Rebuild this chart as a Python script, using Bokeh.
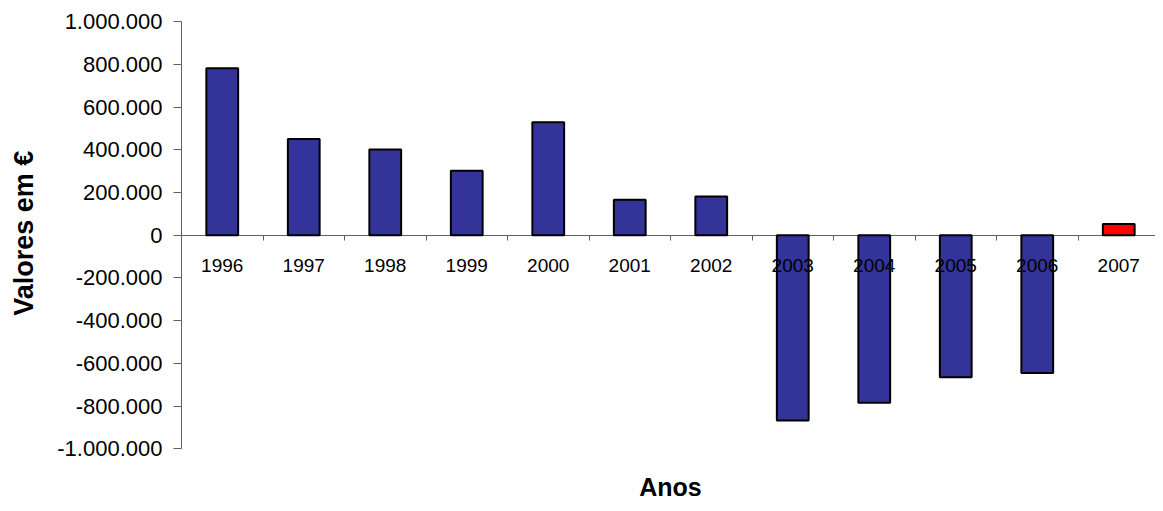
import math
from bokeh.plotting import figure
from bokeh.models import FixedTicker, LinearAxis, Range1d, Label, ColumnDataSource
from bokeh.embed import file_html
from bokeh.resources import INLINE

years = ["1996", "1997", "1998", "1999", "2000", "2001", "2002",
         "2003", "2004", "2005", "2006", "2007"]
values = [782000, 451000, 401000, 302000, 529000, 166000, 181000,
          -868000, -785000, -665000, -645000, 52000]
colors = ["#333399"] * 11 + ["#FF0000"]
y_ticks = [-1000000, -800000, -600000, -400000, -200000, 0,
           200000, 400000, 600000, 800000, 1000000]
y_tick_labels = ["-1.000.000", "-800.000", "-600.000", "-400.000", "-200.000", "0",
                 "200.000", "400.000", "600.000", "800.000", "1.000.000"]
x_title = "Anos"
y_title = "Valores em €"

FONT = "Liberation Sans"
AXIS_COLOR = "#606060"
# layout (pixels): the plotting frame covers the whole canvas; axes sit at fixed locations
W, H = 1155, 503
LEFT_PX = 181          # x pixel of the value axis
CAT_PX = 81.5          # width of one category
ZERO_PX = 234.7        # y pixel of value 0
PX_PER_EUR = 213.5 / 1000000

n = len(years)
xs = [i + 0.5 for i in range(n)]
bounds = list(range(n + 1))

x_range = Range1d(-LEFT_PX / CAT_PX, (W - LEFT_PX) / CAT_PX)
y_range = Range1d(-(H - ZERO_PX) / PX_PER_EUR, ZERO_PX / PX_PER_EUR)

p = figure(width=W, height=H, output_backend="svg", toolbar_location=None,
           x_range=x_range, y_range=y_range,
           min_border_left=0, min_border_right=0, min_border_top=0, min_border_bottom=0,
           x_axis_location=None, y_axis_location=None)
p.grid.visible = False
p.outline_line_color = None
p.background_fill_color = "white"
p.border_fill_color = "white"

src = ColumnDataSource(dict(x=xs, top=values, color=colors))
p.vbar(x="x", top="top", bottom=0, width=0.39, fill_color="color",
       line_color="black", line_width=2, source=src)

yaxis = LinearAxis(ticker=FixedTicker(ticks=y_ticks), fixed_location=0,
                   bounds=(y_ticks[0], y_ticks[-1]),
                   major_label_overrides=dict(zip(y_ticks, y_tick_labels)),
                   major_label_text_font=FONT, major_label_text_font_size="22px",
                   major_label_text_color="black", major_label_standoff=11,
                   major_tick_out=8, major_tick_in=0, minor_tick_out=0, minor_tick_in=0,
                   axis_line_color=AXIS_COLOR, major_tick_line_color=AXIS_COLOR)
p.add_layout(yaxis, "left")

tick_axis = LinearAxis(ticker=FixedTicker(ticks=bounds), fixed_location=0,
                       bounds=(bounds[0], bounds[-1]),
                       major_label_text_color=None, major_label_text_font_size="1px",
                       major_tick_out=5, major_tick_in=0, minor_tick_out=0, minor_tick_in=0,
                       axis_line_color=AXIS_COLOR, major_tick_line_color=AXIS_COLOR)
tick_axis.level = "underlay"
p.add_layout(tick_axis, "below")

label_axis = LinearAxis(ticker=FixedTicker(ticks=xs), fixed_location=0,
                        major_label_overrides=dict(zip(xs, years)),
                        major_label_text_font=FONT, major_label_text_font_size="19px",
                        major_label_text_color="black", major_label_standoff=24,
                        major_tick_out=0, major_tick_in=0, minor_tick_out=0, minor_tick_in=0,
                        axis_line_color=None, major_tick_line_color=None)
p.add_layout(label_axis, "below")

# axis titles
p.add_layout(Label(x=0, y=0, x_offset=-158, y_offset=2, angle=math.pi / 2, text=y_title,
                   text_font=FONT, text_font_size="27px", text_font_style="bold",
                   text_align="center", text_baseline="middle", text_color="black"))
p.add_layout(Label(x=n / 2, y=y_ticks[0], y_offset=-38, text=x_title,
                   text_font=FONT, text_font_size="25px", text_font_style="bold",
                   text_align="center", text_baseline="middle", text_color="black"))

open("out.html", "w").write(file_html(p, INLINE))
